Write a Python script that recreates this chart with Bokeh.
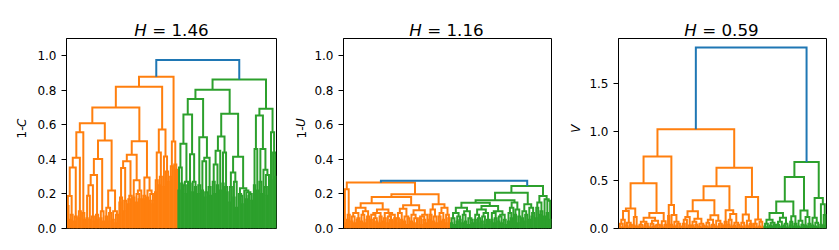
import numpy as np
from bokeh.plotting import figure
from bokeh.layouts import row, column
from bokeh.models import Range1d, FixedTicker, PrintfTickFormatter, ColumnDataSource
from bokeh.core.properties import value
from bokeh.embed import file_html
from bokeh.resources import INLINE

ORANGE = "#ff7f0e"
GREEN = "#2ca02c"
BLUE = "#1f77b4"

# ---------- data: merge height between each pair of neighbouring leaves ----------
# Panel 1 (1-C), H = 1.46
p1_o1 = [0.13, 0.188, 0.05, 0.08, 0.353, 0.04, 0.07, 0.41, 0.06, 0.10, 0.557, 0.09, 0.05]
p1_o2 = [0.06, 0.19, 0.05, 0.25, 0.07, 0.04, 0.31, 0.08, 0.05, 0.402, 0.06, 0.10, 0.04,
         0.509, 0.07, 0.12, 0.04, 0.09, 0.22, 0.05, 0.10, 0.03, 0.08]
p1_o3 = [0.15, 0.18, 0.35, 0.10, 0.16, 0.39, 0.14, 0.17, 0.19, 0.427, 0.18, 0.28, 0.15,
         0.20, 0.17, 0.22, 0.505, 0.17, 0.19, 0.295, 0.18, 0.22, 0.16, 0.20, 0.14]
p1_o4 = [0.21, 0.28, 0.44, 0.25, 0.30, 0.573, 0.24, 0.417, 0.33, 0.27]
p1_o5 = [0.30, 0.36, 0.503, 0.37, 0.34]
p1_joins_orange = [0.61, 0.70, 0.82, 0.878]
p1_g1 = [0.22, 0.353, 0.26, 0.49, 0.25, 0.20, 0.27, 0.66, 0.26, 0.43, 0.21, 0.27, 0.24]
p1_g2 = [0.20, 0.25, 0.528, 0.22, 0.39, 0.18, 0.21, 0.41, 0.24, 0.19]
p1_g3 = [0.27, 0.20, 0.37, 0.25, 0.45, 0.22, 0.532, 0.26, 0.44, 0.24, 0.21, 0.664,
         0.15, 0.24, 0.324, 0.18, 0.27, 0.12, 0.415, 0.20, 0.19, 0.14, 0.233, 0.22, 0.17,
         0.21, 0.19, 0.20, 0.16]
p1_g4 = [0.25, 0.46, 0.22, 0.654, 0.27, 0.20, 0.46, 0.34, 0.24, 0.19, 0.31, 0.693,
         0.28, 0.557, 0.44, 0.30]
p1_joins_green = [0.75, 0.804, 0.862]
p1_top = 0.975

# Panel 2 (1-U), H = 1.16
p2_o1 = [0.03, 0.227, 0.05, 0.08]
p2_o2 = [0.04, 0.07, 0.03, 0.09, 0.05, 0.06, 0.12, 0.04, 0.08, 0.03, 0.10, 0.05, 0.07,
         0.146, 0.05, 0.08, 0.03, 0.06, 0.04, 0.09, 0.03, 0.07, 0.11, 0.04, 0.06, 0.09,
         0.03, 0.07, 0.05, 0.04, 0.08, 0.06]
p2_o3 = [0.06, 0.03, 0.09, 0.05, 0.115, 0.04, 0.07, 0.02, 0.06, 0.134, 0.04, 0.08, 0.03,
         0.06, 0.02, 0.105, 0.06, 0.02, 0.07, 0.05, 0.03, 0.08]
p2_o4 = [0.05, 0.08, 0.11, 0.04, 0.07, 0.03, 0.14, 0.07, 0.04, 0.09, 0.05, 0.12, 0.03,
         0.08, 0.06]
p2_joins_orange = [0.266, 0.182, 0.198]
p2_g1 = [0.03, 0.06, 0.02, 0.09, 0.04, 0.07, 0.05, 0.12, 0.03, 0.08, 0.04, 0.10, 0.02,
         0.06, 0.05, 0.03, 0.149, 0.05, 0.08, 0.03, 0.06, 0.11, 0.04, 0.07, 0.02, 0.09,
         0.05, 0.04, 0.13, 0.05, 0.09, 0.03, 0.06, 0.10, 0.04, 0.07, 0.03, 0.08, 0.05, 0.02]
p2_g2 = [0.04, 0.09, 0.06, 0.12, 0.15, 0.08, 0.11, 0.03, 0.07]
p2_g3 = [0.06, 0.10, 0.04, 0.08, 0.14, 0.05, 0.12, 0.07, 0.09]
p2_g4 = [0.06, 0.12, 0.15, 0.08, 0.10, 0.188, 0.07, 0.17, 0.09, 0.16, 0.05]
p2_joins_green = [0.163, 0.207, 0.246]
p2_top = 0.276

# Panel 3 (V), H = 0.59
p3_o1 = [0.02, 0.05, 0.01, 0.09, 0.18, 0.03, 0.06, 0.01, 0.04, 0.206, 0.03, 0.12, 0.02]
p3_o2 = [0.02, 0.04, 0.01, 0.07, 0.03, 0.05, 0.02, 0.11, 0.01, 0.05, 0.02, 0.08, 0.03,
         0.01, 0.04, 0.161, 0.03, 0.075, 0.01, 0.04]
p3_o3 = [0.13, 0.243, 0.04, 0.14, 0.02, 0.07, 0.03, 0.05, 0.01]
p3_o4 = [0.02, 0.05, 0.09, 0.01, 0.12, 0.03, 0.178, 0.03, 0.07, 0.01, 0.04, 0.10, 0.02,
         0.05, 0.01, 0.03]
p3_o5 = [0.02, 0.06, 0.01, 0.09, 0.03, 0.04, 0.137, 0.02, 0.08, 0.01, 0.05, 0.03]
p3_o6 = [0.03, 0.07, 0.19, 0.04, 0.09, 0.02, 0.15, 0.03, 0.06, 0.01, 0.04]
p3_o7 = [0.02, 0.06, 0.01, 0.144, 0.03, 0.08, 0.02, 0.05, 0.326, 0.03, 0.05, 0.01, 0.093,
         0.02, 0.07, 0.01]
p3_joins_orange = [0.467, 0.745, 1.027, 0.292, 0.436, 0.629]
p3_g1 = [0.02, 0.05, 0.01, 0.09, 0.03, 0.06, 0.02, 0.04, 0.161, 0.04, 0.01, 0.07, 0.02,
         0.11, 0.03, 0.05, 0.01]
p3_g2 = [0.03, 0.07, 0.127, 0.02, 0.05]
p3_g3 = [0.02, 0.08, 0.01, 0.04, 0.186, 0.03, 0.12, 0.02, 0.05]
p3_g4 = [0.03, 0.11, 0.02, 0.06, 0.01, 0.316, 0.04, 0.25, 0.03, 0.14]
p3_joins_green = [0.28, 0.532, 0.687]
p3_top = 1.872

titles = ["1.46", "1.16", "0.59"]
ylabels = [("1-", "C"), ("1-", "U"), ("", "V")]
yticks = [[0.0, 0.2, 0.4, 0.6, 0.8, 1.0], [0.0, 0.2, 0.4, 0.6, 0.8, 1.0], [0.0, 0.5, 1.0, 1.5]]
ylims = [1.1, 1.1, None]


def chain(segments, joins):
    out = list(segments[0])
    for j, s in zip(joins, segments[1:]):
        out += [j] + list(s)
    return out


def build(gaps):
    """scipy-style dendrogram layout from ordered-leaf merge heights."""
    n = len(gaps) + 1
    segs = []

    def rec(lo, hi):
        if lo == hi:
            return 5.0 + 10.0 * lo, 0.0
        k = lo + int(np.argmax(gaps[lo:hi]))
        xl, yl = rec(lo, k)
        xr, yr = rec(k + 1, hi)
        h = gaps[k]
        segs.append(([xl, xl, xr, xr], [yl, h, h, yr], lo, hi))
        return (xl + xr) / 2.0, h

    rec(0, n - 1)
    return segs, n


# layout geometry (pixels)
FW, FH = 210, 190            # plot frame
BLS = [32, 30, 30]           # main figure left borders
BR, BB = 7, 10
TH = 38                      # title strip height
YLW = [34, 28, 28]           # y-label strip widths
YLX = [21, 17.7, 17]         # y-label baseline position inside strip
MH = FH + BB
FONT = "DejaVu Sans"


def text_fig(w, h):
    f = figure(width=w, height=h, x_range=Range1d(0, w), y_range=Range1d(0, h),
               x_axis_location=None, y_axis_location=None, min_border=0,
               output_backend="svg", toolbar_location=None)
    f.xgrid.visible = False
    f.ygrid.visible = False
    f.outline_line_color = None
    f.background_fill_color = "white"
    f.border_fill_color = "white"
    return f


def main_fig(orange, green, top, idx):
    gaps = orange + [top] + green
    n_or = len(orange) + 1
    segs, n = build(gaps)
    ymax = ylims[idx] if ylims[idx] is not None else 1.05 * max(gaps)
    xmax = 10.0 * n
    p = figure(width=BLS[idx] + FW + BR, height=MH, min_border_left=BLS[idx],
               min_border_right=BR, min_border_top=0, min_border_bottom=BB,
               x_range=Range1d(0, xmax), y_range=Range1d(0, ymax),
               x_axis_type=None, output_backend="svg", toolbar_location=None)
    p.xgrid.visible = False
    p.ygrid.visible = False
    p.outline_line_color = "black"
    p.outline_line_width = 1
    p.background_fill_color = "white"
    p.border_fill_color = "white"

    xs, ys, cols = [], [], []
    for sx, sy, lo, hi in segs:
        xs.append(sx)
        ys.append(sy)
        if hi < n_or:
            cols.append(ORANGE)
        elif lo >= n_or:
            cols.append(GREEN)
        else:
            cols.append(BLUE)
    src = ColumnDataSource(dict(xs=xs, ys=ys, c=cols))
    p.multi_line("xs", "ys", line_color="c", line_width=2, source=src, line_join="miter")

    ax = p.yaxis[0]
    ax.ticker = FixedTicker(ticks=yticks[idx])
    ax.formatter = PrintfTickFormatter(format="%.1f")
    ax.major_tick_out = 5
    ax.major_tick_in = 0
    ax.minor_tick_line_color = None
    ax.major_tick_line_color = "black"
    ax.axis_line_color = "black"
    ax.major_label_text_font = FONT
    ax.major_label_text_font_size = "12px"
    ax.major_label_text_color = "black"
    ax.major_label_standoff = 5
    return p


def title_fig(idx, w, frame_center):
    f = text_fig(w, TH)
    tx = frame_center - 37.2
    f.text(x=[tx], y=[9], text=["H"], text_font=value(FONT), text_font_size="16.7px",
           text_font_style="italic", text_align="left", text_baseline="alphabetic",
           text_color="black")
    f.text(x=[tx + 17.9], y=[9], text=["= " + titles[idx]], text_font=value(FONT),
           text_font_size="16.7px", text_align="left", text_baseline="alphabetic",
           text_color="black")
    return f


def ylabel_fig(idx):
    w = YLW[idx]
    base_x = YLX[idx]
    f = text_fig(w, MH)
    pre, it = ylabels[idx]
    pre_w = 12 * 0.997 if pre else 0.0
    total = pre_w + 12 * 0.7
    yc = MH - FH / 2.0
    y0 = yc - total / 2.0
    if pre:
        f.text(x=[base_x], y=[y0], text=[pre], angle=np.pi / 2, text_font=value(FONT),
               text_font_size="12px", text_align="left", text_baseline="alphabetic",
               text_color="black")
    f.text(x=[base_x], y=[y0 + pre_w], text=[it], angle=np.pi / 2, text_font=value(FONT),
           text_font_size="12px", text_font_style="italic", text_align="left",
           text_baseline="alphabetic", text_color="black")
    return f


m1 = main_fig(chain([p1_o1, p1_o2, p1_o3, p1_o4, p1_o5], p1_joins_orange),
              chain([p1_g1, p1_g2, p1_g3, p1_g4], p1_joins_green), p1_top, 0)
m2 = main_fig(chain([p2_o1, p2_o2, p2_o3, p2_o4], p2_joins_orange),
              chain([p2_g1, p2_g2, p2_g3, p2_g4], p2_joins_green), p2_top, 1)
m3 = main_fig(chain([p3_o1, p3_o2, p3_o3, p3_o4, p3_o5, p3_o6, p3_o7], p3_joins_orange),
              chain([p3_g1, p3_g2, p3_g3, p3_g4], p3_joins_green), p3_top, 2)

cols = []
for i, m in enumerate([m1, m2, m3]):
    w = YLW[i] + BLS[i] + FW + BR
    t = title_fig(i, w, YLW[i] + BLS[i] + FW / 2.0)
    yl = ylabel_fig(i)
    cols.append(column(t, row(yl, m)))

layout = row(*cols)
open("out.html", "w").write(file_html(layout, INLINE))
